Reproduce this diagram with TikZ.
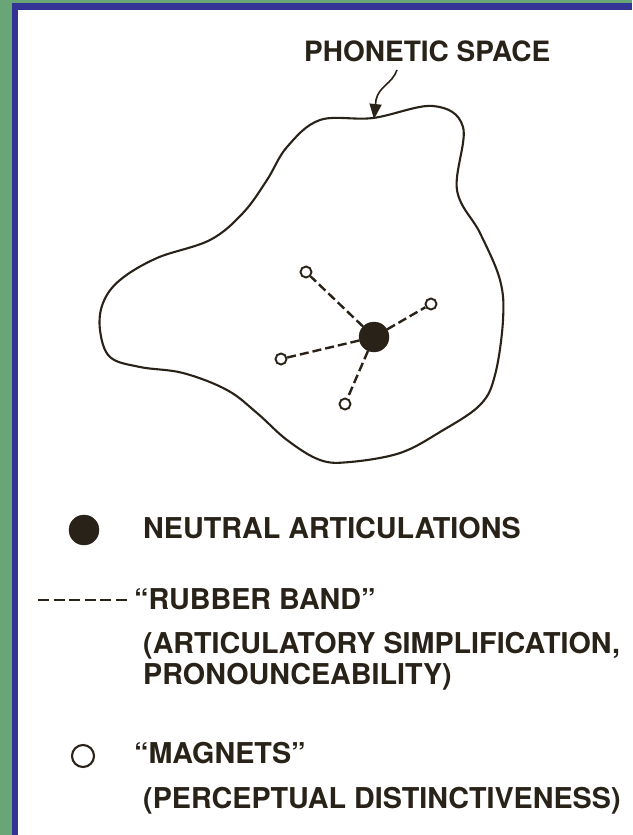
\documentclass[tikz,border=0pt]{standalone}
\usepackage{fontspec}
\setmainfont{TeX Gyre Heros}
\usetikzlibrary{arrows.meta}
\definecolor{bggreen}{RGB}{104,166,120}
\definecolor{bdblue}{RGB}{52,52,150}
\definecolor{ink}{RGB}{40,34,24}
\begin{document}
\begin{tikzpicture}[x=1pt,y=-1pt,
  lbl/.style={anchor=base west, inner sep=0pt, font=\fontsize{28.7}{32}\selectfont\bfseries, text=ink},
  hub/.style={circle, fill=ink, draw=ink, minimum size=30pt, inner sep=0pt},
  magnet/.style={circle, draw=ink, line width=1.9pt, fill=white, minimum size=11pt, inner sep=0pt},
  band/.style={draw=ink, line width=2.4pt, dash pattern=on 9pt off 4pt},
  outline/.style={draw=ink, line width=2.1pt}]
\useasboundingbox (0,0) rectangle (632,835);
\fill[bggreen] (0,0) rectangle (632,835);
\fill[bdblue] (12,3) rectangle (632,835);
\fill[white] (18,10) rectangle (632,835);

% title
\node[lbl, font=\fontsize{28}{32}\selectfont\bfseries] (title) at (304,61) {PHONETIC SPACE};

% blob
\draw[outline, line join=round] plot[smooth cycle, tension=0.6] coordinates {
 (373,118) (433,106) (463,127) (457,190) (480,233) (500,280) (503,320)
 (495,375) (480,405) (440,432) (400,453) (350,462) (320,460) (287,440)
 (257,413) (227,390) (183,373) (140,367) (110,357) (100,330) (103,303)
 (120,280) (157,258) (210,240) (243,213) (267,180) (287,147) (320,120)};

% arrow
\coordinate (a0) at (397,70);
\coordinate (tip) at (374,119);
\draw[draw=ink, line width=1.6pt, -{Triangle[length=15pt,width=12pt]}]
  (a0) .. controls (392,84) and (379,86) .. (376,100) -- (tip);

% network
\node[hub] (c) at (374,337) {};
\node[magnet] (m1) at (306,272) {};
\node[magnet] (m2) at (431,304) {};
\node[magnet] (m3) at (281,359) {};
\node[magnet] (m4) at (345,404) {};
\draw[band] (c) -- (m1);
\draw[band] (c) -- (m2);
\draw[band] (c) -- (m3);
\draw[band] (c) -- (m4);

% legend
\node[hub] (lc) at (84,530) {};
\node[lbl] (t1) at (143,538) {NEUTRAL ARTICULATIONS};
\coordinate (ld1) at (38,600);
\coordinate (ld2) at (128,600);
\draw[draw=ink, line width=2.8pt, dash pattern=on 11pt off 4.6pt] (ld1) -- (ld2);
\node[lbl] (t2) at (134,609) {“RUBBER BAND”};
\node[lbl] (t3) at (143,653) {(ARTICULATORY SIMPLIFICATION,};
\node[lbl] (t4) at (143,684) {PRONOUNCEABILITY)};
\node[magnet, minimum size=22pt, line width=2.1pt] (lo) at (83,756) {};
\node[lbl] (t5) at (134,763) {“MAGNETS”};
\node[lbl] (t6) at (143,808) {(PERCEPTUAL DISTINCTIVENESS)};
\end{tikzpicture}
\end{document}
